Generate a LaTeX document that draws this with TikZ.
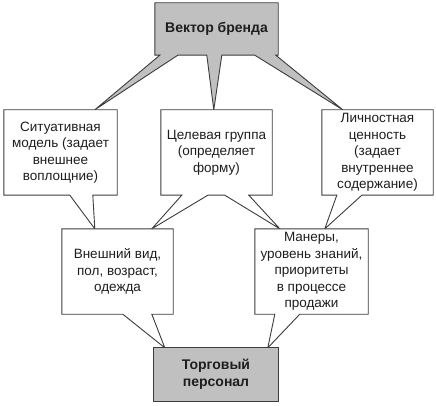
\documentclass[tikz,border=0pt]{standalone}
\usepackage{fontspec}
\setmainfont{Liberation Sans}
\usetikzlibrary{calc,backgrounds}
\definecolor{fillgray}{RGB}{192,192,192}
\definecolor{edgegray}{RGB}{60,60,60}
\definecolor{txt}{RGB}{30,30,30}
\begin{document}
\begin{tikzpicture}[x=1pt,y=-1pt,
  txtbox/.style={draw=none,inner sep=0pt,align=center,text=txt,
     font=\fontsize{13.5}{16.5}\selectfont},
  hdbox/.style={txtbox,font=\bfseries\fontsize{14}{17}\selectfont},
  callwhite/.style={fill=white,draw=edgegray,line width=0.9pt,line join=miter},
  callgray/.style={fill=fillgray,draw=edgegray,line width=0.9pt,line join=miter}]
\useasboundingbox (0,0) rectangle (436,406);

% nodes (boxes)
\node[hdbox,minimum width=123pt,minimum height=52pt] (vb) at (216.5,29) {Вектор бренда};
\node[txtbox,minimum width=113pt,minimum height=85pt] (sit) at (60.5,152.5)
  {Ситуативная\\модель (задает\\внешнее\\воплощние)};
\node[txtbox,minimum width=111pt,minimum height=85pt] (cel) at (216.5,152.5)
  {Целевая группа\\(определяет\\форму)};
\node[txtbox,minimum width=111pt,minimum height=85pt] (lich) at (377.5,152.5)
  {Личностная\\ценность\\(задает\\внутреннее\\содержание)};
\node[txtbox,minimum width=111pt,minimum height=85pt] (vnesh) at (117.5,271.5)
  {Внешний вид,\\пол, возраст,\\одежда};
\node[txtbox,minimum width=113pt,minimum height=85pt] (man) at (311.5,271.5)
  {Манеры,\\уровень знаний,\\приоритеты\\в процессе\\продажи};
\node[hdbox,minimum width=124pt,minimum height=53pt] (torg) at (216,374.5)
  {Торговый\\персонал};

\begin{pgfonlayer}{background}
% top callout with three pointers
\draw[callgray] (vb.north west) -- (vb.north east) -- (vb.south east)
  -- ($(vb.south west)+(121,0)$) -- ($(lich.north west)+(21,0)$) -- ($(vb.south west)+(100,0)$)
  -- ($(vb.south west)+(67,0)$) -- ($(cel.north west)+(53,0)$) -- ($(vb.south west)+(52,0)$)
  -- ($(vb.south west)+(23,0)$) -- ($(sit.north west)+(91,0)$) -- ($(vb.south west)+(5,0)$)
  -- (vb.south west) -- cycle;
% situational model
\draw[callwhite] (sit.north west) -- (sit.north east) -- (sit.south east)
  -- ($(sit.south west)+(89,0)$) -- ($(vnesh.north west)+(33,0)$) -- ($(sit.south west)+(66,0)$)
  -- (sit.south west) -- cycle;
% target group
\draw[callwhite] (cel.north west) -- (cel.north east) -- (cel.south east)
  -- ($(cel.south west)+(88,0)$) -- ($(man.north west)+(25,0)$) -- ($(cel.south west)+(64,0)$)
  -- ($(cel.south west)+(47,0)$) -- ($(vnesh.north west)+(90,0)$) -- ($(cel.south west)+(21,0)$)
  -- (cel.south west) -- cycle;
% personal value
\draw[callwhite] (lich.north west) -- (lich.north east) -- (lich.south east)
  -- ($(lich.south west)+(40,0)$) -- ($(man.north west)+(70,0)$) -- ($(lich.south west)+(15,0)$)
  -- (lich.south west) -- cycle;
% appearance
\draw[callwhite] (vnesh.north west) -- (vnesh.north east) -- (vnesh.south east)
  -- ($(vnesh.south west)+(90,0)$) -- ($(torg.north west)+(11,0)$) -- ($(vnesh.south west)+(61,0)$)
  -- (vnesh.south west) -- cycle;
% manners
\draw[callwhite] (man.north west) -- (man.north east) -- (man.south east)
  -- ($(man.south west)+(45,0)$) -- ($(torg.north west)+(114,0)$) -- ($(man.south west)+(20,0)$)
  -- (man.south west) -- cycle;
% bottom box
\draw[callgray] (torg.north west) rectangle (torg.south east);
\end{pgfonlayer}
\end{tikzpicture}
\end{document}
